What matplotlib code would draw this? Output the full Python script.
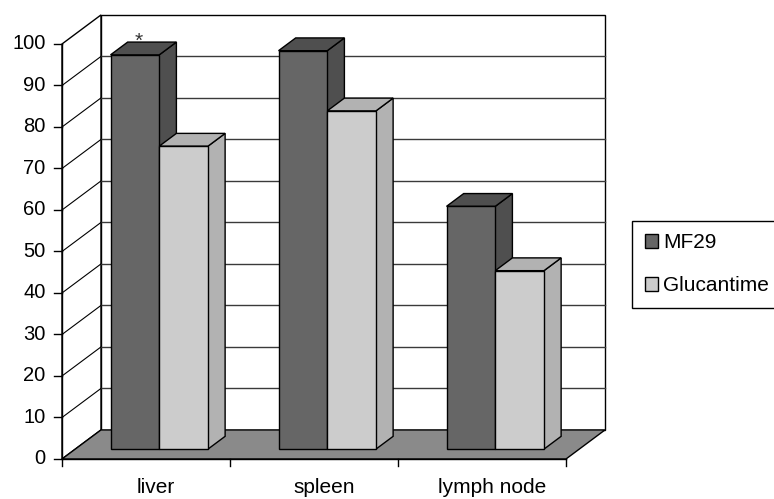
import matplotlib.pyplot as plt
from matplotlib.patches import Polygon, Patch

categories = ['liver', 'spleen', 'lymph node']
mf29 = [95, 96, 58.5]
glucantime = [73, 81.5, 43]
series_names = ['MF29', 'Glucantime']
yticks = list(range(0, 101, 10))

plt.rcParams['font.family'] = ['Liberation Sans', 'DejaVu Sans']
FS = 15

# fake 3d: offset of the back wall (x in category units, y in value units)
DX, DY = 0.232, 7.0
Z0, Z1 = 0.34, 0.78      # bar front / back depth
BW = 0.29                # bar width

colors = {
    'MF29': ('#666666', '#4f4f4f', '#4f4f4f'),        # front, side, top
    'Glucantime': ('#cccccc', '#b2b2b2', '#b2b2b2'),
}

fig = plt.figure(figsize=(7.74, 4.99), dpi=100)
ax = fig.add_axes([0, 0, 1, 1])
ax.set_xlim(-0.369, 4.238)
ax.set_ylim(-9.64, 110.6)
ax.set_axis_off()

n = len(categories)
ymax = yticks[-1]


def poly(pts, fc, lw=1.0, z=1):
    ax.add_patch(Polygon(pts, closed=True, facecolor=fc, edgecolor='black',
                         linewidth=lw, zorder=z))


# walls
poly([(DX, DY), (n + DX, DY), (n + DX, ymax + DY), (DX, ymax + DY)], 'white')
poly([(0, 0), (DX, DY), (DX, ymax + DY), (0, ymax)], 'white')
for v in yticks[1:-1]:
    ax.plot([DX, n + DX], [v + DY, v + DY], color='#3a3a3a', lw=1, zorder=2)
    ax.plot([0, DX], [v, v + DY], color='black', lw=0.8, zorder=2)

# floor
poly([(0, 0), (n, 0), (n + DX, DY), (DX, DY)], '#8a8a8a', z=3)

# bars
fx, fy = Z0 * DX, Z0 * DY
bx, by = Z1 * DX, Z1 * DY
for s, (name, vals) in enumerate(zip(series_names, [mf29, glucantime])):
    front, side, top = colors[name]
    for i, v in enumerate(vals):
        x0 = i + 0.21 + s * BW
        x1 = x0 + BW
        z = 5 + i * 2 + s
        poly([(x1 + fx, fy), (x1 + bx, by), (x1 + bx, v + by), (x1 + fx, v + fy)], side, z=z)
        poly([(x0 + fx, v + fy), (x1 + fx, v + fy), (x1 + bx, v + by), (x0 + bx, v + by)], top, z=z)
        poly([(x0 + fx, fy), (x1 + fx, fy), (x1 + fx, v + fy), (x0 + fx, v + fy)], front, z=z)

# significance mark on liver MF29
ax.text(0.21 + BW / 2 + 0.1, mf29[0] + 4.4, '*', ha='center', va='baseline',
        fontsize=FS, color='#333333', zorder=20)

# value axis
ax.plot([0, 0], [0, ymax], color='black', lw=1, zorder=10)
for v in yticks:
    ax.plot([-0.05, 0], [v, v], color='black', lw=1, zorder=10)
    ax.text(-0.098, v, str(v), ha='right', va='center', fontsize=14.5)

# category axis
ax.plot([0, n], [0, 0], color='black', lw=1, zorder=10)
for i in range(n + 1):
    ax.plot([i, i], [0, -1.7], color='black', lw=1, zorder=10)
for i, cat in enumerate(categories):
    ax.text(i + 0.56, -4.5, cat, ha='center', va='top', fontsize=FS)

handles = [Patch(facecolor=colors[nm][0], edgecolor='black', lw=1) for nm in series_names]
fig.legend(handles, series_names, loc='upper left',
           bbox_to_anchor=(632 / 774, 1 - 221 / 499), borderaxespad=0,
           fontsize=FS, handlelength=0.65, handleheight=0.65, handletextpad=0.25,
           labelspacing=1.15, borderpad=0.6, fancybox=False, framealpha=1,
           edgecolor='black')

fig.savefig('out.png', dpi=100)
